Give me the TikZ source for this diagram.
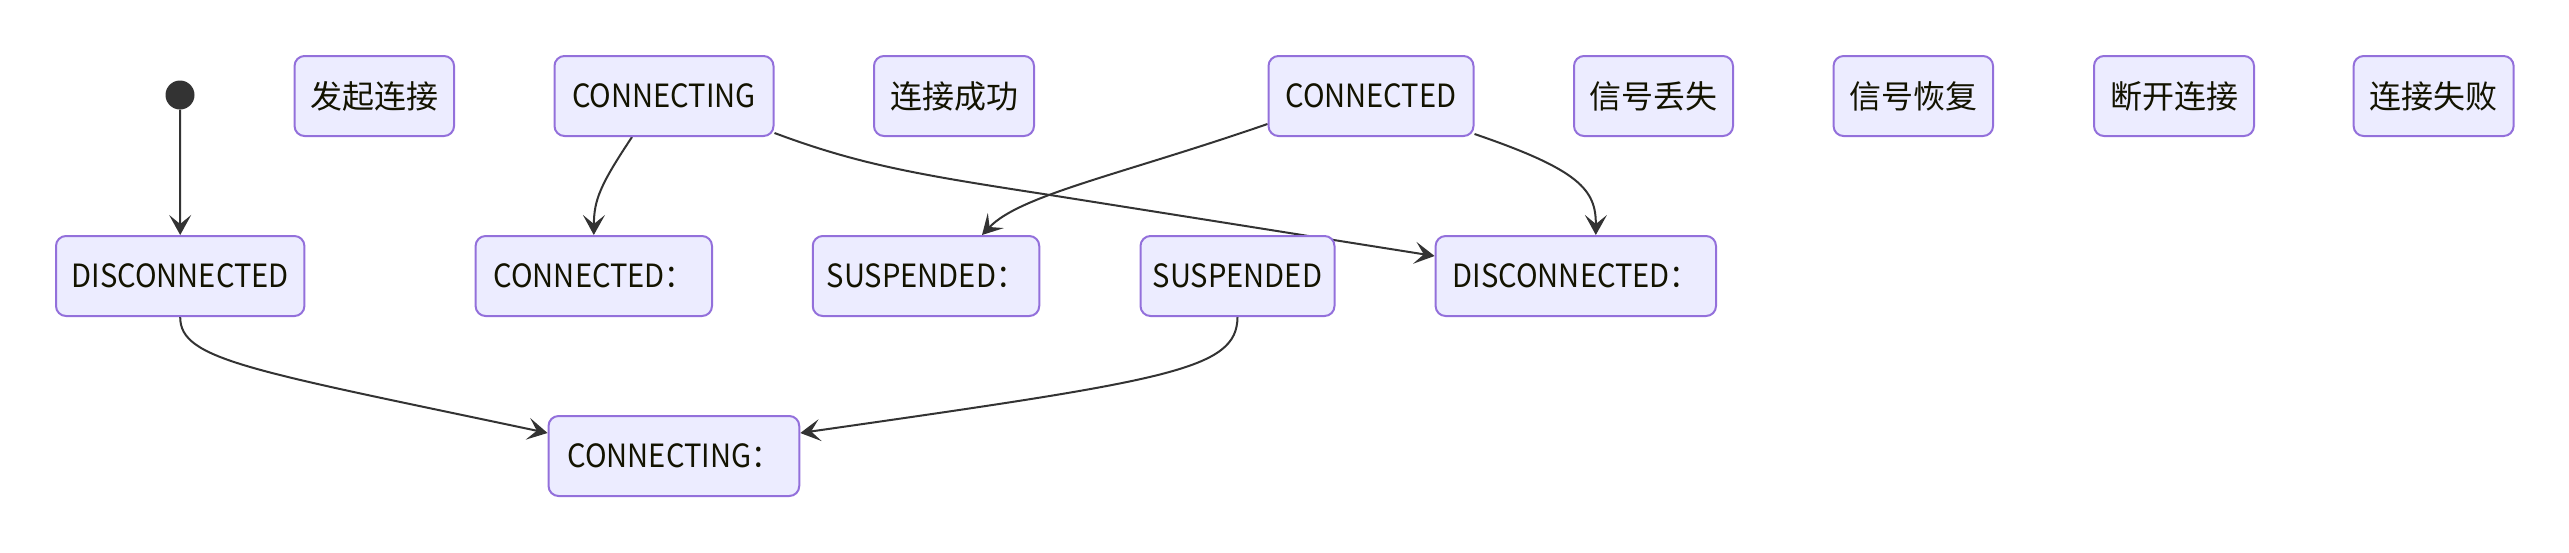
\documentclass[tikz,border=0pt]{standalone}
\usepackage{fontspec}
\newfontfamily\cjk{Noto Sans CJK SC}
\newfontfamily\latn[FakeStretch=0.91]{Noto Sans CJK SC}
\usetikzlibrary{arrows.meta,backgrounds}
\definecolor{stfill}{HTML}{ECECFF}
\definecolor{stline}{HTML}{9370DB}
\definecolor{edgec}{HTML}{333333}
\definecolor{txtc}{HTML}{131300}
\tikzset{
  stbox/.style={draw=stline, fill=stfill, line width=2pt, rounded corners=10pt,
    minimum height=80pt, inner sep=0pt, text=txtc,
    font=\cjk\fontsize{32}{38}\selectfont},
  latbox/.style={stbox, font=\latn\fontsize{32}{38}\selectfont},
  edge/.style={draw=edgec, line width=2pt,
    -{Stealth[length=20pt,width=22pt,inset=9pt]}},
  startdot/.style={circle, fill=edgec, minimum size=29pt, inner sep=0pt}
}
\begin{document}
\begin{tikzpicture}[x=1pt,y=-1pt]
\path[use as bounding box] (0,0) rectangle (2569,552);
% top row
\node[startdot] (start) at (180,95) {};
\node[stbox, minimum width=159.5pt] (fq) at (374.3,96) {发起连接};
\node[latbox, minimum width=219pt] (cting) at (664,96) {CONNECTING};
\node[stbox, minimum width=160pt] (cg) at (954,96) {连接成功};
\node[latbox, minimum width=205pt] (cted) at (1371,96) {CONNECTED};
\node[stbox, minimum width=159pt] (xs) at (1653.5,96) {信号丢失};
\node[stbox, minimum width=159.5pt] (hf) at (1913.3,96) {信号恢复};
\node[stbox, minimum width=160pt] (dk) at (2174,96) {断开连接};
\node[stbox, minimum width=160pt] (sb) at (2433.6,96) {连接失败};
% middle row
\node[latbox, minimum width=248.4pt] (disc) at (180.2,276) {DISCONNECTED};
\node[latbox, minimum width=236.4pt] (ctedc) at (593.8,276) {CONNECTED：};
\node[latbox, minimum width=226.5pt] (suspc) at (926,276) {SUSPENDED：};
\node[latbox, minimum width=194pt] (susp) at (1237.5,276) {SUSPENDED};
\node[latbox, minimum width=280.4pt] (discc) at (1575.8,276) {DISCONNECTED：};
% bottom
\node[latbox, minimum width=250.7pt] (ctingc) at (673.9,456) {CONNECTING：};
% edges
\begin{scope}[on background layer]
\draw[edge] (start) -- (disc.north);
\draw[edge] ([xshift=-32pt]cting.south) .. controls (600,185) and (594,200) .. (ctedc.north);
\draw[edge] ([yshift=-37pt]cting.east) .. controls (860,165) and (920,175) .. (1050,195) -- ([yshift=20pt]discc.west);
\draw[edge] ([yshift=-28pt]cted.west) .. controls (1120,175) and (1020,195) .. ([xshift=56pt]suspc.north);
\draw[edge] ([yshift=-38pt]cted.east) .. controls (1580,170) and (1596,190) .. ([xshift=20pt]discc.north);
\draw[edge] (disc.south) .. controls (180,360) and (250,370) .. ([yshift=23pt]ctingc.west);
\draw[edge] (susp.south) .. controls (1237,370) and (1170,380) .. ([yshift=23pt]ctingc.east);
\end{scope}
\end{tikzpicture}
\end{document}
